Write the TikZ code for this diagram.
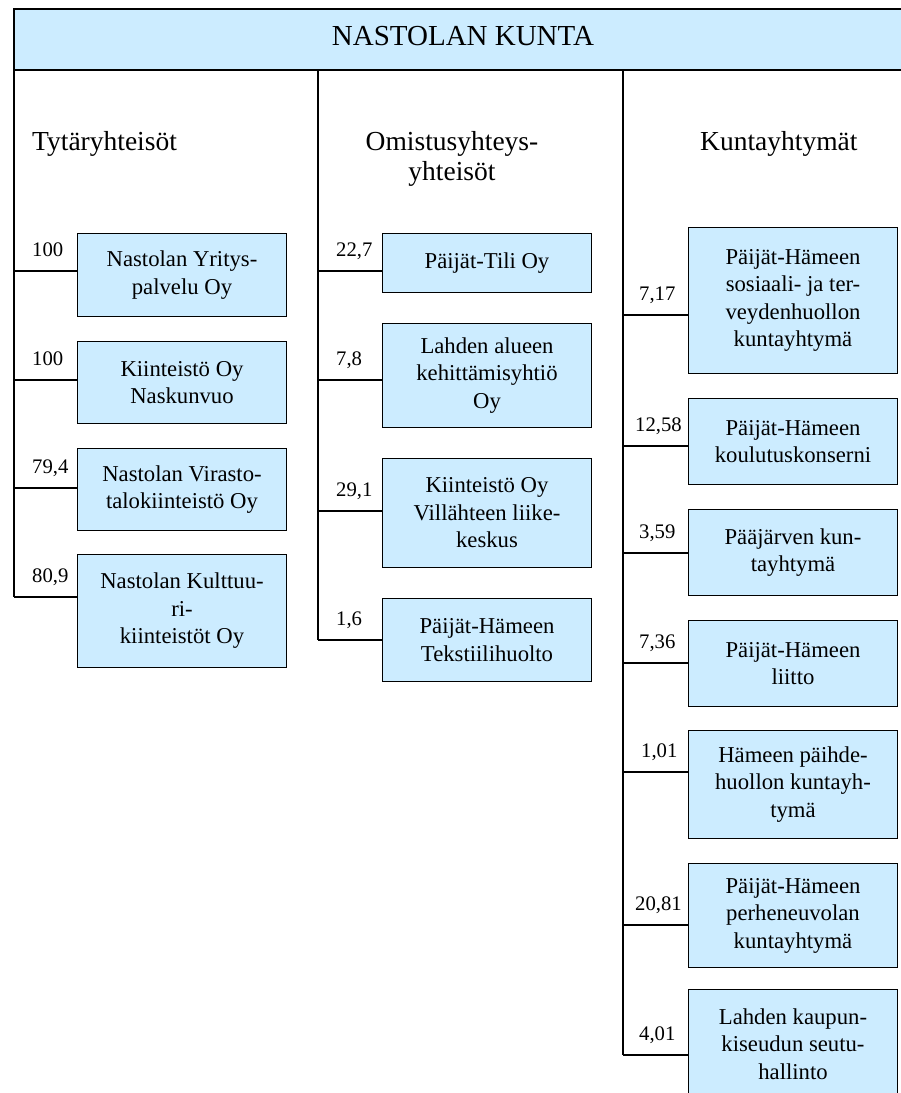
\documentclass[tikz,border=0pt]{standalone}
\usepackage{fontspec}
\setmainfont{Liberation Serif}
\usepackage{xcolor}
\usetikzlibrary{positioning}
\definecolor{paleblue}{RGB}{204,236,255}
\tikzset{unit/.style={rectangle,draw=black,line width=1.3pt,fill=paleblue,align=center,
    minimum width=208.7pt,inner sep=0pt,font=\fontsize{22.7}{27.5}\selectfont}}
\tikzset{share/.style={anchor=base west,inner sep=0pt,font=\fontsize{20.7}{24}\selectfont}}
\tikzset{group/.style={inner sep=0pt,align=center,font=\fontsize{27.5}{30}\selectfont}}
\tikzset{link/.style={line width=1.2pt}}

\begin{document}
\begin{tikzpicture}[x=1pt,y=-1pt]
\useasboundingbox (0,0) rectangle (901,1093);
\clip (0,0) rectangle (901,1093);
% \draw[help lines] (0,0) grid (901,1093);
\node (root) [rectangle,draw=black,line width=2.2pt,fill=paleblue,minimum width=898.8pt,
  minimum height=60.8pt,font=\fontsize{29}{34}\selectfont] at (463,39.5) {\raisebox{6.5pt}{NASTOLAN KUNTA}};
%
\node (g1) [group,anchor=base west] at (32,150) {Tytäryhteisöt};
\node (g2) [group,anchor=north] at (452,131) {Omistusyhteys-\\yhteisöt};
\node (g3) [group,anchor=base west] at (700,150) {Kuntayhtymät};
%
\node (t1) [unit,minimum height=82.7pt] at (182,275) {Nastolan Yritys-\\palvelu Oy};
\node (t2) [unit,minimum height=81.7pt] at (182,382.5) {Kiinteistö Oy\\Naskunvuo};
\node (t3) [unit,minimum height=81.7pt] at (182,489.5) {Nastolan Virasto-\\talokiinteistö Oy};
\node (t4) [unit,minimum height=112.7pt] at (182,611) {Nastolan Kulttuu-\\ri-\\kiinteistöt Oy};
%
\node (o1) [unit,minimum height=58.7pt] at (487,263) {Päijät-Tili Oy};
\node (o2) [unit,minimum height=103.7pt] at (487,375.5) {Lahden alueen\\kehittämisyhtiö\\Oy};
\node (o3) [unit,minimum height=108.7pt] at (487,513) {Kiinteistö Oy\\Villähteen liike-\\keskus};
\node (o4) [unit,minimum height=82.7pt] at (487,640) {Päijät-Hämeen\\Tekstiilihuolto};
%
\node (k1) [unit,minimum height=145.7pt] at (793,300.5) {Päijät-Hämeen\\sosiaali- ja ter-\\veydenhuollon\\kuntayhtymä};
\node (k2) [unit,minimum height=85.7pt] at (793,441.5) {Päijät-Hämeen\\koulutuskonserni};
\node (k3) [unit,minimum height=85.7pt] at (793,552.5) {Pääjärven kun-\\tayhtymä};
\node (k4) [unit,minimum height=85.7pt] at (793,663.5) {Päijät-Hämeen\\liitto};
\node (k5) [unit,minimum height=107.7pt] at (793,784.5) {Hämeen päihde-\\huollon kuntayh-\\tymä};
\node (k6) [unit,minimum height=103.7pt] at (793,915.5) {Päijät-Hämeen\\perheneuvolan\\kuntayhtymä};
\node (k7) [unit,minimum height=108.7pt] at (793,1044) {Lahden kaupun-\\kiseudun seutu-\\hallinto};
%
\coordinate (tc1) at (14,271);
\coordinate (tc2) at (14,380);
\coordinate (tc3) at (14,488);
\coordinate (tc4) at (14,597);
\coordinate (oc1) at (318,271);
\coordinate (oc2) at (318,380);
\coordinate (oc3) at (318,511);
\coordinate (oc4) at (318,640);
\coordinate (kc1) at (623,315);
\coordinate (kc2) at (623,446);
\coordinate (kc3) at (623,553);
\coordinate (kc4) at (623,663);
\coordinate (kc5) at (623,772);
\coordinate (kc6) at (623,925);
\coordinate (kc7) at (623,1055);
%
\draw[link] (tc1 |- root.south) -- (tc4);
\draw[link] (oc1 |- root.south) -- (oc4);
\draw[link] (kc1 |- root.south) -- (kc7);
%
\draw[link] (tc1) -- (tc1 -| t1.west);
\draw[link] (tc2) -- (tc2 -| t2.west);
\draw[link] (tc3) -- (tc3 -| t3.west);
\draw[link] (tc4) -- (tc4 -| t4.west);
\draw[link] (oc1) -- (oc1 -| o1.west);
\draw[link] (oc2) -- (oc2 -| o2.west);
\draw[link] (oc3) -- (oc3 -| o3.west);
\draw[link] (oc4) -- (oc4 -| o4.west);
\draw[link] (kc1) -- (kc1 -| k1.west);
\draw[link] (kc2) -- (kc2 -| k2.west);
\draw[link] (kc3) -- (kc3 -| k3.west);
\draw[link] (kc4) -- (kc4 -| k4.west);
\draw[link] (kc5) -- (kc5 -| k5.west);
\draw[link] (kc6) -- (kc6 -| k6.west);
\draw[link] (kc7) -- (kc7 -| k7.west);
%
\node (tp1) [share] at (32,256) {100};
\node (tp2) [share] at (32,365) {100};
\node (tp3) [share] at (32,473) {79,4};
\node (tp4) [share] at (32,582) {80,9};
\node (op1) [share] at (336,256) {22,7};
\node (op2) [share] at (336,365) {7,8};
\node (op3) [share] at (336,496) {29,1};
\node (op4) [share] at (336,625) {1,6};
\node (kp1) [share] at (639,300) {7,17};
\node (kp2) [share] at (635,431) {12,58};
\node (kp3) [share] at (639,538) {3,59};
\node (kp4) [share] at (639,648) {7,36};
\node (kp5) [share] at (641,757) {1,01};
\node (kp6) [share] at (635,910) {20,81};
\node (kp7) [share] at (639,1040) {4,01};
\end{tikzpicture}
\end{document}
